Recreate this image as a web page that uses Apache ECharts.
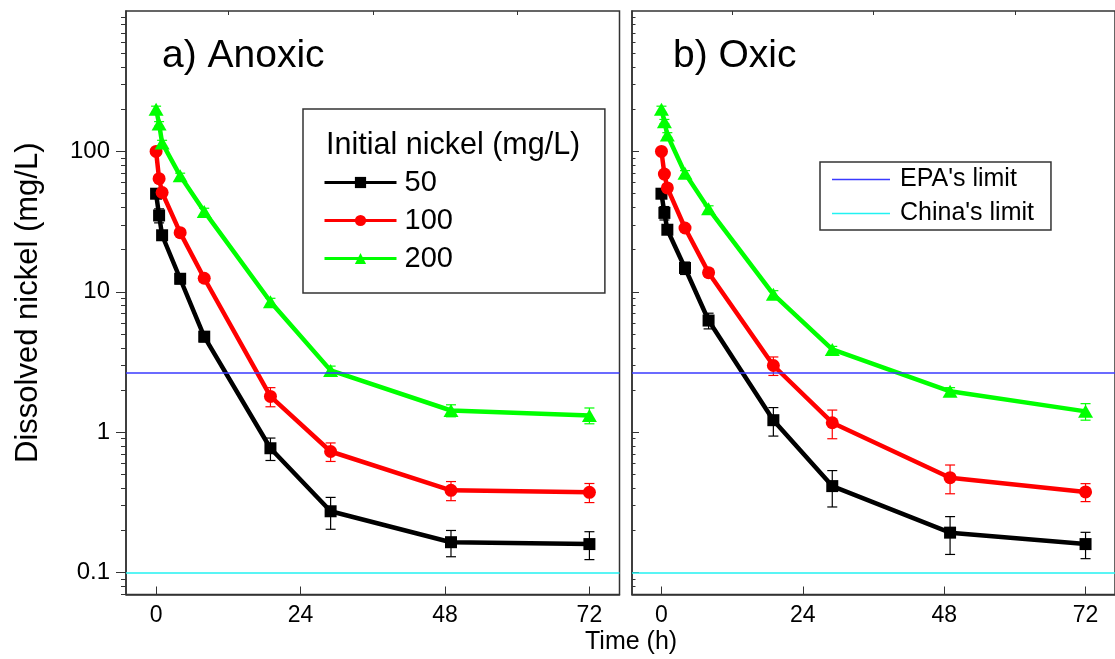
<!DOCTYPE html>
<html>
<head>
<meta charset="utf-8">
<script src="https://cdn.jsdelivr.net/npm/echarts@6/dist/echarts.min.js"></script>
<style>
  html, body { margin: 0; padding: 0; background: #fff; }
  #chart { width: 1115px; height: 659px; }
</style>
</head>
<body>
<div id="chart"></div>
<script>
// sampling times (h)
const times = [0, 0.5, 1, 4, 8, 19, 29, 49, 72];

// a) Anoxic, dissolved nickel (mg/L) and error
const anoxic50 = [50, 35, 25.3, 12.4, 4.8, 0.77, 0.274, 0.165, 0.16];
const anoxic50Err = [3, 4, 2, 1, 0.4, 0.14, 0.07, 0.035, 0.036];
const anoxic100 = [100, 64, 51, 26.4, 12.5, 1.8, 0.73, 0.386, 0.374];
const anoxic100Err = [4, 3, 3, 1.2, 0.7, 0.28, 0.11, 0.06, 0.058];
const anoxic200 = [200, 157, 115, 67, 37.4, 8.5, 2.76, 1.43, 1.32];
const anoxic200Err = [10, 6, 5, 3, 2, 0.5, 0.2, 0.14, 0.17];

// b) Oxic
const oxic50 = [50, 36.5, 27.7, 14.8, 6.25, 1.22, 0.414, 0.193, 0.16];
const oxic50Err = [3, 4, 2, 1.5, 0.8, 0.28, 0.12, 0.058, 0.034];
const oxic100 = [100, 69, 55, 28.5, 13.7, 2.99, 1.17, 0.475, 0.376];
const oxic100Err = [4, 3, 3, 1.5, 0.8, 0.45, 0.27, 0.11, 0.055];
const oxic200 = [200, 163, 131, 70, 39, 9.6, 3.89, 1.96, 1.41];
const oxic200Err = [10, 6, 5, 3, 2, 0.6, 0.2, 0.12, 0.19];

const epaLimit = 2.64;
const chinaLimit = 0.1;

const seriesNames = ['50', '100', '200'];
const limitNames = ["EPA's limit", "China's limit"];
const xTicks = [0, 24, 48, 72];
const xMinorTicks = [12, 36, 60];
const yTicks = [0.1, 1, 10, 100];
const yMinorDecades = [0.01, 0.1, 1, 10, 100];
const yMinorSteps = [2, 3, 4, 5, 6, 7, 8, 9];
const yMinorTicks = [];
yMinorDecades.forEach(d => yMinorSteps.forEach(s => yMinorTicks.push(+(d * s).toPrecision(3))));

const FONT = 'Liberation Sans, Arial, sans-serif';
const FRAME = '#333';
const colors = ['#000000', '#ff0000', '#00ff00'];
const limitColors = ['#3a3aff', '#22f2f2'];
const symbols = ['rect', 'circle', 'triangle'];
const symbolSizes = [12, 13, [15, 13]];
const xRange = [-5, 77];
const yRange = [0.07, 1000];

const grids = [
  { left: 126, top: 11, width: 493.5, height: 583.5, show: true, borderColor: FRAME, borderWidth: 1.5 },
  { left: 632, top: 11, width: 494, height: 583.5, show: true, borderColor: FRAME, borderWidth: 1.5 }
];

function xAxes(gi) {
  return [
    {
      gridIndex: gi, type: 'value', min: xRange[0], max: xRange[1],
      axisLine: { onZero: false, lineStyle: { color: FRAME, width: 1.5 } },
      axisTick: { inside: true, length: 8, customValues: xTicks, lineStyle: { color: FRAME } },
      axisLabel: { customValues: xTicks, margin: 10, fontSize: 23, fontFamily: FONT, color: '#000' },
      splitLine: { show: false }
    },
    {
      gridIndex: gi, type: 'value', min: xRange[0], max: xRange[1],
      axisLine: { show: false, onZero: false },
      axisTick: { inside: true, length: 4, customValues: xMinorTicks, lineStyle: { color: FRAME } },
      axisLabel: { show: false },
      splitLine: { show: false }
    }
  ];
}

function yAxes(gi, withLabels) {
  const main = {
    gridIndex: gi, type: 'log', logBase: 10, min: yRange[0], max: yRange[1], position: 'left',
    axisLine: { show: true, onZero: false, lineStyle: { color: FRAME, width: 1.5 } },
    axisTick: { inside: !withLabels, length: withLabels ? 10 : 7, customValues: yTicks, lineStyle: { color: FRAME } },
    axisLabel: {
      show: withLabels, customValues: yTicks, margin: 16, fontSize: 24, fontFamily: FONT, color: '#000',
      formatter: v => String(+(+v).toPrecision(3))
    },
    splitLine: { show: false }
  };
  if (withLabels) {
    main.name = 'Dissolved nickel (mg/L)';
    main.nameLocation = 'middle';
    main.nameRotate = 90;
    main.nameGap = 82;
    main.nameTextStyle = { fontSize: 31, fontFamily: FONT, color: '#000' };
  }
  const minor = {
    gridIndex: gi, type: 'log', logBase: 10, min: yRange[0], max: yRange[1], position: 'left',
    axisLine: { show: false, onZero: false },
    axisTick: { inside: !withLabels, length: withLabels ? 5 : 3.5, customValues: yMinorTicks, lineStyle: { color: FRAME } },
    axisLabel: { show: false },
    splitLine: { show: false }
  };
  return [main, minor];
}

function lineSeries(name, idx, values, axisIdx) {
  return {
    name: name, type: 'line', xAxisIndex: axisIdx, yAxisIndex: axisIdx,
    data: times.map((t, i) => [t, values[i]]),
    symbol: symbols[idx], symbolSize: symbolSizes[idx], showAllSymbol: true,
    itemStyle: { color: colors[idx] },
    lineStyle: { color: colors[idx], width: 4.5 },
    z: 3
  };
}

function errorSeries(name, idx, values, errs, axisIdx) {
  const color = colors[idx];
  return {
    name: name + ' err', type: 'custom', xAxisIndex: axisIdx, yAxisIndex: axisIdx,
    data: times.map((t, i) => [t, values[i] - errs[i], values[i] + errs[i]]),
    encode: { x: 0, y: [1, 2] },
    renderItem: function (params, api) {
      const lo = api.coord([api.value(0), api.value(1)]);
      const hi = api.coord([api.value(0), api.value(2)]);
      const w = 5;
      const style = { stroke: color, lineWidth: 1.2 };
      return {
        type: 'group',
        children: [
          { type: 'line', shape: { x1: lo[0], y1: lo[1], x2: hi[0], y2: hi[1] }, style: style },
          { type: 'line', shape: { x1: lo[0] - w, y1: lo[1], x2: lo[0] + w, y2: lo[1] }, style: style },
          { type: 'line', shape: { x1: hi[0] - w, y1: hi[1], x2: hi[0] + w, y2: hi[1] }, style: style }
        ]
      };
    },
    z: 2
  };
}

function limitSeries(name, value, color, axisIdx) {
  return {
    name: name, type: 'line', xAxisIndex: axisIdx, yAxisIndex: axisIdx,
    data: [], symbol: 'none', color: color,
    itemStyle: { color: color },
    lineStyle: { color: color, width: 1.5 },
    markLine: {
      silent: true, symbol: ['none', 'none'], animation: false,
      label: { show: false },
      itemStyle: { color: color },
      lineStyle: { color: color, width: 1.5, type: 'solid', opacity: 1 },
      data: [{ yAxis: value, lineStyle: { color: color } }]
    },
    z: 4
  };
}

const panels = [
  { axis: 0, data: [anoxic50, anoxic100, anoxic200], errs: [anoxic50Err, anoxic100Err, anoxic200Err] },
  { axis: 2, data: [oxic50, oxic100, oxic200], errs: [oxic50Err, oxic100Err, oxic200Err] }
];

const series = [];
panels.forEach(p => {
  series.push(limitSeries(limitNames[0], epaLimit, limitColors[0], p.axis));
  series.push(limitSeries(limitNames[1], chinaLimit, limitColors[1], p.axis));
  p.data.forEach((vals, i) => series.push(errorSeries(seriesNames[i], i, vals, p.errs[i], p.axis)));
  p.data.forEach((vals, i) => series.push(lineSeries(seriesNames[i], i, vals, p.axis)));
});

const chart = echarts.init(document.getElementById('chart'));
chart.setOption({
  animation: false,
  backgroundColor: '#fff',
  title: [
    { text: 'a) Anoxic', left: 162, top: 37, padding: 0, textStyle: { fontSize: 39, fontWeight: 'normal', fontFamily: FONT, color: '#000' } },
    { text: 'b) Oxic', left: 673, top: 37, padding: 0, textStyle: { fontSize: 39, fontWeight: 'normal', fontFamily: FONT, color: '#000' } },
    { text: 'Initial nickel (mg/L)', left: 326, top: 130, padding: 0, textStyle: { fontSize: 30.5, fontWeight: 'normal', fontFamily: FONT, color: '#000' } },
    { text: 'Time (h)', left: 585, top: 630, padding: 0, textStyle: { fontSize: 25, fontWeight: 'normal', fontFamily: FONT, color: '#000' } }
  ],
  legend: [
    {
      data: seriesNames, orient: 'vertical', left: 303, top: 109,
      itemWidth: 72, itemHeight: 14, itemGap: 9,
      padding: [59, 152, 20, 20],
      borderColor: FRAME, borderWidth: 1.5, selectedMode: false,
      lineStyle: { width: 3 },
      textStyle: { fontSize: 29, fontFamily: FONT, color: '#000', padding: [0, 0, 0, 3] }
    },
    {
      data: limitNames.map((n, i) => ({ name: n, icon: 'rect', itemStyle: { color: limitColors[i] } })),
      orient: 'vertical', left: 820, top: 162,
      itemWidth: 58, itemHeight: 1.5, itemGap: 9,
      padding: [5, 17, 4, 12],
      borderColor: FRAME, borderWidth: 1.5, selectedMode: false,
      textStyle: { fontSize: 25, fontFamily: FONT, color: '#000', padding: [0, 0, 0, 5] }
    }
  ],
  grid: grids,
  xAxis: [...xAxes(0), ...xAxes(1)],
  yAxis: [...yAxes(0, true), ...yAxes(1, false)],
  series: series
});
</script>
</body>
</html>
